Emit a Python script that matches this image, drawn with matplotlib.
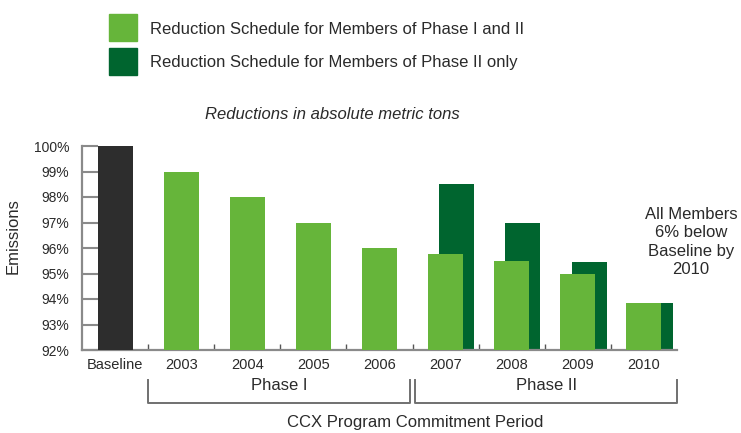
import matplotlib
matplotlib.use('Agg')
import matplotlib.pyplot as plt
from matplotlib.patches import Rectangle
from matplotlib.lines import Line2D
import matplotlib.transforms as mtransforms

plt.rcParams['font.family'] = ['Liberation Sans', 'DejaVu Sans']

# 数据
categories = ['Baseline', '2003', '2004', '2005', '2006', '2007', '2008', '2009', '2010']
baseline_value = [100]
phase_1_2 = [99, 98, 97, 96, 95.75, 95.5, 95.0, 93.85]   # 2003-2010
phase_2_only = [98.5, 97.0, 95.45, 93.85]               # 2007-2010
yticks = [92, 93, 94, 95, 96, 97, 98, 99, 100]

light = '#66b53a'
dark = '#00652f'
black = '#2d2d2d'
grey = '#8a8a8a'
txt = '#2a2a2a'

fig = plt.figure(figsize=(7.41, 4.33), dpi=100)
ax = fig.add_axes([82 / 741, 1 - 350 / 433, 595 / 741, 204 / 433])

w = 0.53
off = 0.17
x_light = list(range(1, 9))
x_dark = [x + off for x in range(5, 9)]

ax.bar(x_dark, [v - 92 for v in phase_2_only], width=w, bottom=92, color=dark, zorder=2)
ax.bar(x_light, [v - 92 for v in phase_1_2], width=w, bottom=92, color=light, zorder=3)
ax.bar([0], [v - 92 for v in baseline_value], width=w, bottom=92, color=black, zorder=3)

ax.set_xlim(-0.5, 8.5)
ax.set_ylim(92, 100)
ax.set_yticks(yticks)
ax.set_yticklabels([f'{v}%' for v in yticks], fontsize=10, color=txt)
ax.set_xticks(range(9))
ax.set_xticklabels(categories, fontsize=10.5, color=txt)
ax.set_xticks([i + 0.5 for i in range(8)], minor=True)
ax.tick_params(axis='x', which='major', length=0, pad=6)
ax.tick_params(axis='x', which='minor', direction='in', length=4, width=1, color='#555555')
ax.tick_params(axis='y', direction='in', length=11.5, width=1.5, color=grey, pad=9)
for s in ['top', 'right']:
    ax.spines[s].set_visible(False)
for s in ['left', 'bottom']:
    ax.spines[s].set_color(grey)
    ax.spines[s].set_linewidth(1.6)

ax.set_ylabel('Emissions', fontsize=12, color=txt)
ax.yaxis.set_label_coords(-61 / 595, (350 - 236) / 204)

# 括号
trans = mtransforms.blended_transform_factory(ax.transData, fig.transFigure)
y_top = 1 - 380 / 433
y_bot = 1 - 403 / 433
for x0, x1, label in [(0.5, 4.46, 'Phase I'), (4.54, 8.5, 'Phase II')]:
    fig.add_artist(Line2D([x0, x0, x1, x1], [y_top, y_bot, y_bot, y_top],
                          transform=trans, color='#707070', lw=1.4))
    fig.text((x0 + x1) / 2, 1 - 386 / 433, label, transform=trans,
             ha='center', va='center', fontsize=12, color=txt)

fig.text(415 / 741, 1 - 423 / 433, 'CCX Program Commitment Period',
         ha='center', va='center', fontsize=12, color=txt)

# 图例
fig.add_artist(Rectangle((109 / 741, 1 - 41 / 433), 28 / 741, 27 / 433,
                         transform=fig.transFigure, color=light))
fig.add_artist(Rectangle((109 / 741, 1 - 75 / 433), 28 / 741, 27 / 433,
                         transform=fig.transFigure, color=dark))
fig.text(150 / 741, 1 - 29 / 433, 'Reduction Schedule for Members of Phase I and II',
         ha='left', va='center', fontsize=12, color=txt)
fig.text(150 / 741, 1 - 63 / 433, 'Reduction Schedule for Members of Phase II only',
         ha='left', va='center', fontsize=12, color=txt)

fig.text(332 / 741, 1 - 115 / 433, 'Reductions in absolute metric tons',
         ha='center', va='center', fontsize=12, style='italic', color=txt)

fig.text(691 / 741, 1 - 242 / 433, 'All Members\n6% below\nBaseline by\n2010',
         ha='center', va='center', fontsize=12, color=txt, linespacing=1.28)

fig.savefig('out.png', dpi=100)
